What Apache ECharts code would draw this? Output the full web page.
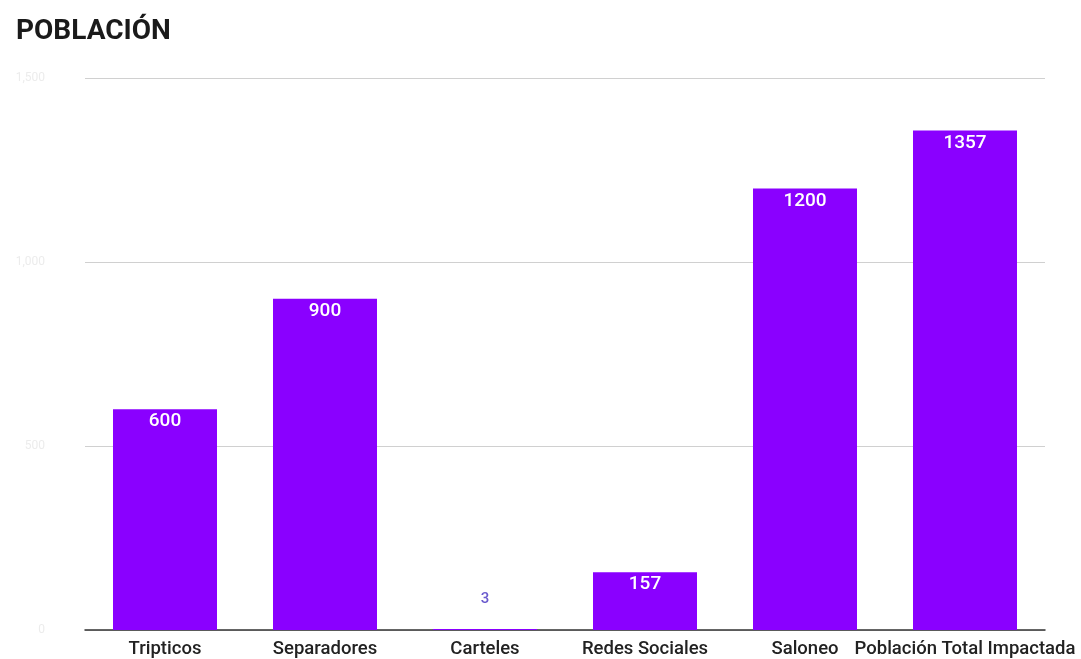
<!DOCTYPE html>
<html>
<head>
<meta charset="utf-8">
<script src="https://cdn.jsdelivr.net/npm/echarts@6/dist/echarts.min.js"></script>
<style>html,body{margin:0;padding:0;background:#fff;}#c{width:1081px;height:659px;}</style>
</head>
<body>
<div id="c"></div>
<script>
const categories = ['Tripticos', 'Separadores', 'Carteles', 'Redes Sociales', 'Saloneo', 'Población Total Impactada'];
const values = [600, 900, 3, 157, 1200, 1357];
const yTicks = [0, 500, 1000, 1500];

const chart = echarts.init(document.getElementById('c'));
chart.setOption({
  animation: false,
  backgroundColor: '#ffffff',
  title: {
    text: 'POBLACIÓN', left: 11, top: 13,
    textStyle: { fontFamily: 'Roboto', fontWeight: 'bold', fontSize: 28, color: '#1a1a1a' }
  },
  grid: { left: 85, right: 36, top: 78, bottom: 29 },
  xAxis: {
    type: 'category', data: categories,
    axisTick: { show: false },
    axisLine: { lineStyle: { color: '#333', width: 1.5 } },
    axisLabel: { fontFamily: 'Roboto', fontWeight: 500, fontSize: 18.5, color: '#222', margin: 10, interval: 0 }
  },
  yAxis: {
    type: 'value', min: yTicks[0], max: yTicks[yTicks.length - 1], interval: 500,
    axisLabel: { color: '#ececec', fontFamily: 'Roboto', fontSize: 12, margin: 40 },
    splitLine: { lineStyle: { color: '#d0d0d0', width: 1 } },
    axisLine: { show: false }, axisTick: { show: false }
  },
  series: [{
    type: 'bar',
    data: values.map((v, i) => i === 2 ? {
      value: v,
      label: { position: 'top', color: '#6a5acd', distance: 22, fontSize: 15 }
    } : v),
    barWidth: '65%',
    itemStyle: { color: '#8A00FF' },
    label: {
      show: true, position: 'insideTop', distance: 3,
      color: '#ffffff', fontFamily: 'Roboto', fontWeight: 500, fontSize: 19
    }
  }]
});
</script>
</body>
</html>
